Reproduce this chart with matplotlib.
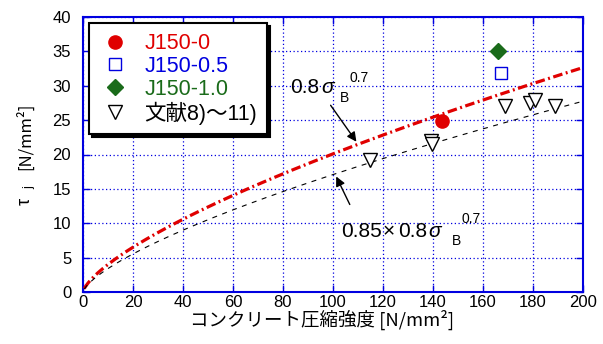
import numpy as np
import matplotlib
matplotlib.use("Agg")
import matplotlib.pyplot as plt

plt.rcParams['font.family'] = ['Liberation Sans', 'Noto Sans CJK JP']

# test specimens
j0_x, j0_y = [143.7], [24.9]
j05_x, j05_y = [167.0], [31.8]
j10_x, j10_y = [166.0], [35.1]
# literature data 8)-11)
lit_x = [114.8, 139.2, 139.6, 168.8, 178.8, 180.8, 188.8]
lit_y = [19.2, 22.0, 21.5, 27.0, 27.5, 28.0, 27.1]

legend_labels = ['J150-0', 'J150-0.5', 'J150-1.0', '文献8)～11)']
legend_colors = ['#e00000', '#0000e0', '#1a6b1a', 'black']

sigma = np.linspace(0.5, 200, 400)
tau_upper = 0.8 * sigma ** 0.7
tau_lower = 0.85 * 0.8 * sigma ** 0.7

W, H = 603, 344
fig = plt.figure(figsize=(W / 100, H / 100), dpi=100)
ax = fig.add_axes([83 / W, 1 - 292 / H, 500 / W, 275 / H])

ax.plot(sigma, tau_upper, color='#e00000', lw=2.3, ls=(0, (3.0, 1.1, 0.6, 1.1)), zorder=3)
ax.plot(sigma, tau_lower, color='black', lw=0.8, ls=(0, (4.5, 5.0)), zorder=3)

ax.plot(j0_x, j0_y, 'o', color='#e00000', ms=9.5, ls='none', zorder=5, label=legend_labels[0])
ax.plot(j05_x, j05_y, 's', mfc='white', mec='#0000e0', mew=1.0, ms=9, ls='none', zorder=5,
        label=legend_labels[1])
ax.plot(j10_x, j10_y, 'D', color='#1a6b1a', ms=8, ls='none', zorder=5, label=legend_labels[2])
ax.plot(lit_x, lit_y, 'v', mfc='white', mec='black', mew=1.0, ms=9.5, ls='none', zorder=5,
        label=legend_labels[3])

ax.set_xlim(0, 200)
ax.set_ylim(0, 40)
ax.set_xticks(np.arange(0, 201, 20))
ax.set_yticks(np.arange(0, 41, 5))
ax.grid(True, color='#0000e0', ls=(0, (1, 2)), lw=0.9)
for s in ax.spines.values():
    s.set_color('#0000e0')
    s.set_linewidth(1.5)
ax.tick_params(direction='in', length=5, color='#0000e0', width=1,
               top=True, right=True, labelsize=12)
ax.tick_params(axis='x', pad=2.5)
ax.tick_params(axis='y', pad=8.5)

leg = ax.legend(loc='upper left', bbox_to_anchor=(0.0, 1.0), fontsize=15.5,
                frameon=True, fancybox=False, shadow={'color': 'black', 'alpha': 1},
                edgecolor='black', framealpha=1, labelcolor=legend_colors,
                handletextpad=0.6, borderpad=0.45, labelspacing=0.08, handlelength=1.5,
                borderaxespad=0.3)
leg.get_frame().set_linewidth(1.5)


def ftext(px, py, s, **kw):
    fig.text(px / W, 1 - py / H, s, **kw)


# axis labels
ftext(322, 320, 'コンクリート圧縮強度 [N/mm²]', ha='center', va='center', fontsize=13.3,
      family=['Noto Sans CJK JP'])
ftext(25, 201, 'τ', ha='center', va='center', fontsize=13, rotation=90)
ftext(29, 188, 'j', ha='center', va='center', fontsize=9, rotation=90)
ftext(25, 136, '[N/mm²]', ha='center', va='center', fontsize=12, rotation=90,
      family=['Noto Sans CJK JP'])

# curve annotations
ftext(290, 93, '0.8', fontsize=15, va='baseline')
ftext(321, 93, 'σ', fontsize=15, va='baseline', style='italic')
ftext(340, 102, 'B', fontsize=10, va='baseline')
ftext(350, 82, '0.7', fontsize=10, va='baseline')
ax.annotate('', xy=((358 - 83) / 2.5, (292 - 144) / 6.875),
            xytext=((329 - 83) / 2.5, (292 - 103) / 6.875),
            arrowprops=dict(arrowstyle='-|>', color='black', lw=1, mutation_scale=14))

ftext(341, 237, '0.85', fontsize=15, va='baseline')
ftext(383, 237, '×', fontsize=15, va='baseline')
ftext(398, 237, '0.8', fontsize=15, va='baseline')
ftext(428, 237, 'σ', fontsize=15, va='baseline', style='italic')
ftext(452, 245, 'B', fontsize=10, va='baseline')
ftext(462, 223, '0.7', fontsize=10, va='baseline')
ax.annotate('', xy=((335 - 83) / 2.5, (292 - 174) / 6.875),
            xytext=((351 - 83) / 2.5, (292 - 207) / 6.875),
            arrowprops=dict(arrowstyle='-|>', color='black', lw=1, mutation_scale=14))

fig.savefig('out.png', dpi=100)
